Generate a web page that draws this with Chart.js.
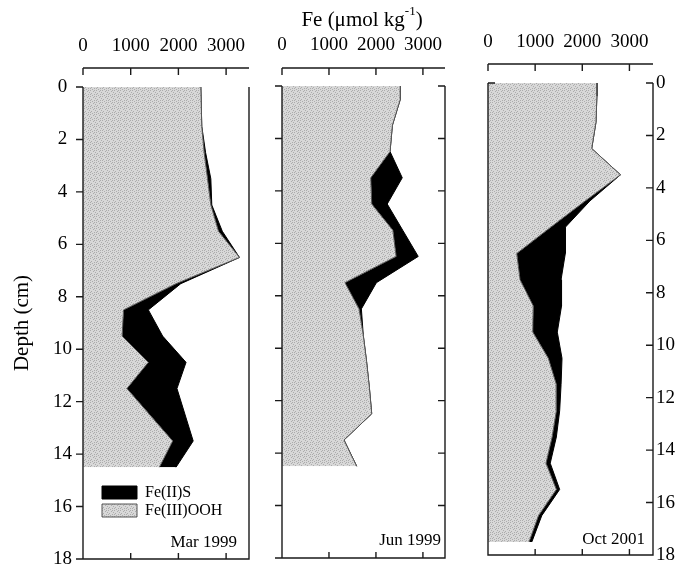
<!DOCTYPE html>
<html>
<head>
<meta charset="utf-8">
<script src="https://cdn.jsdelivr.net/npm/chart.js@4.4.1/dist/chart.umd.min.js"></script>
<style>
  body { margin: 0; background: #fff; }
  canvas { position: absolute; left: 0; top: 0; }
</style>
</head>
<body>
<canvas id="mar" width="684" height="565"></canvas>
<canvas id="jun" width="684" height="565"></canvas>
<canvas id="oct" width="684" height="565"></canvas>
<script>
// depth (cm) and Fe pools (umol/kg)
const depthMar = [0, 1.5, 2.5, 3.5, 4.5, 5.5, 6.5, 7.5, 8.5, 9.5, 10.5, 11.5, 13.5, 14.5];
const oohMar   = [2470, 2490, 2540, 2610, 2680, 2840, 3280, 1950, 850, 820, 1370, 920, 1880, 1600];
const fesMar   = [0, 0, 30, 70, 20, 80, 0, 100, 520, 850, 790, 1050, 430, 350];

const depthJun = [0, 0.5, 1.5, 2.5, 3.5, 4.5, 5.5, 6.5, 7.5, 8.5, 9.5, 10.5, 11.5, 12.5, 13.5, 14.5];
const oohJun   = [2520, 2520, 2350, 2300, 1890, 1910, 2360, 2430, 1340, 1640, 1730, 1800, 1860, 1910, 1320, 1590];
const fesJun   = [0, 0, 0, 0, 670, 330, 210, 470, 670, 50, 0, 0, 0, 0, 0, 0];

const depthOct = [0, 0.5, 1.5, 2.5, 3.5, 4.5, 5.5, 6.5, 7.5, 8.5, 9.5, 10.5, 11.5, 12.5, 13.5, 14.5, 15.5, 16.5, 17.5];
const oohOct   = [2310, 2310, 2290, 2200, 2810, 2060, 1330, 610, 680, 960, 950, 1280, 1450, 1450, 1360, 1230, 1450, 1070, 870];
const fesOct   = [0, 0, 0, 0, 0, 100, 310, 1030, 870, 600, 520, 290, 100, 70, 90, 90, 70, 70, 60];

const feTicks = [0, 1000, 2000, 3000];
const depthTicks = [0, 2, 4, 6, 8, 10, 12, 14, 16, 18];

Chart.defaults.font.family = '"Liberation Serif", "Times New Roman", serif';
Chart.defaults.color = '#000';

// stippled grey like the printed figure
const stipple = (() => {
  const c = document.createElement('canvas');
  c.width = c.height = 6;
  const g = c.getContext('2d');
  g.fillStyle = '#d8d8d8';
  g.fillRect(0, 0, 6, 6);
  g.fillStyle = '#acacac';
  [[0,0],[3,1],[1,3],[4,4],[2,5],[5,2],[0,4],[4,0]].forEach(([i, j]) => g.fillRect(i, j, 1, 1));
  return g.createPattern(c, 'repeat');
})();

const frame = {
  id: 'frame',
  afterLayout(chart, args, o) {
    if (o.legendAt && chart.legend) {
      Object.assign(chart.legend, { left: o.legendAt[0], top: o.legendAt[1], right: chart.chartArea.right, bottom: chart.chartArea.bottom });
    }
  },
  afterDatasetsDraw(chart, args, o) {
    const { ctx, chartArea: a, scales: { x, y } } = chart;
    const top = y.getPixelForValue(0), bot = y.getPixelForValue(18);
    const x0 = x.getPixelForValue(0), x1 = a.right;
    const ay = top - o.gap;
    ctx.save();
    ctx.strokeStyle = '#1a1a1a';
    ctx.lineWidth = 1.4;
    ctx.beginPath();
    ctx.moveTo(x0, ay); ctx.lineTo(x1, ay);
    feTicks.forEach(v => {
      const px = x.getPixelForValue(v);
      ctx.moveTo(px, ay); ctx.lineTo(px, ay + 7);
      if (v > 0) { ctx.moveTo(px, bot); ctx.lineTo(px, bot - 6); }
    });
    ctx.moveTo(x0, top); ctx.lineTo(x0, bot); ctx.lineTo(x1, bot); ctx.lineTo(x1, top);
    depthTicks.forEach(d => {
      const py = y.getPixelForValue(d);
      if (o.left) { ctx.moveTo(x0, py); ctx.lineTo(x0 + o.left, py); }
      if (o.right) { ctx.moveTo(x1, py); ctx.lineTo(x1 + o.right, py); }
    });
    if (o.cap) { ctx.moveTo(x0, top); ctx.lineTo(x0 + o.cap, top); }
    ctx.stroke();

    ctx.fillStyle = '#000';
    ctx.textBaseline = 'middle';
    ctx.textAlign = 'right';
    ctx.font = '17px "Liberation Serif"';
    ctx.fillText(o.date, o.dateAt[0], o.dateAt[1]);

    if (o.title) {
      const big = '21px "Liberation Serif"', small = '13px "Liberation Serif"';
      const a1 = 'Fe (\u03bcmol kg', a2 = '-1', a3 = ')';
      ctx.font = big;
      const w1 = ctx.measureText(a1).width, w3 = ctx.measureText(a3).width;
      ctx.font = small;
      const w2 = ctx.measureText(a2).width;
      let tx = o.title[0] - (w1 + w2 + w3) / 2;
      const ty = o.title[1];
      ctx.textAlign = 'left';
      ctx.font = big; ctx.fillText(a1, tx, ty); tx += w1;
      ctx.font = small; ctx.fillText(a2, tx, ty - 8); tx += w2;
      ctx.font = big; ctx.fillText(a3, tx, ty);
    }
    ctx.restore();
  }
};

function panel(id, p) {
  return new Chart(document.getElementById(id), {
    type: 'line',
    data: {
      datasets: [
        {
          label: 'Fe(III)OOH',
          data: p.depth.map((d, i) => ({ x: p.ooh[i], y: d })),
          backgroundColor: stipple,
          borderColor: '#555',
          borderWidth: 1,
          fill: 'origin',
          pointRadius: 0
        },
        {
          label: 'Fe(II)S',
          data: p.depth.map((d, i) => ({ x: p.fes[i], y: d })),
          backgroundColor: '#000',
          borderColor: '#000',
          borderWidth: 1,
          fill: '-1',
          pointRadius: 0
        }
      ]
    },
    options: {
      indexAxis: 'y',
      responsive: false,
      animation: false,
      layout: { padding: p.pad },
      plugins: {
        tooltip: { enabled: false },
        legend: p.legend ? {
          position: 'chartArea',
          align: 'start',
          reverse: true,
          labels: { boxWidth: 35, boxHeight: 13, padding: 2, font: { size: 16 }, color: '#000' }
        } : { display: false },
        frame: p.frame
      },
      scales: {
        x: {
          type: 'linear',
          position: 'top',
          stacked: true,
          min: 0,
          max: p.xmax,
          grid: { display: false, drawTicks: false },
          border: { display: false },
          afterBuildTicks: s => { s.ticks = feTicks.map(v => ({ value: v })); },
          ticks: { padding: 30, font: { size: 19 }, callback: v => String(v) },
          afterFit: s => { s.height = p.top; s.paddingLeft = 0; s.paddingRight = 0; }
        },
        y: {
          type: 'linear',
          reverse: true,
          min: 0,
          max: 18,
          position: p.yPos,
          display: p.yShow,
          grid: { display: false, drawTicks: false },
          border: { display: false },
          afterBuildTicks: s => { s.ticks = depthTicks.map(v => ({ value: v })); },
          ticks: { padding: p.yPad, crossAlign: p.yAlign, font: { size: 19 } },
          title: p.yTitle ? { display: true, text: 'Depth (cm)', font: { size: 21 }, padding: { top: 10, bottom: 0 } } : { display: false },
          afterFit: s => { s.width = p.yWidth; s.paddingTop = 0; s.paddingBottom = 0; }
        }
      }
    },
    plugins: [frame]
  });
}

panel('mar', {
  depth: depthMar, ooh: oohMar, fes: fesMar,
  xmax: 3480, top: 87, pad: { left: 0, right: 435, top: 0, bottom: 6 },
  yPos: 'left', yShow: true, yPad: 11, yAlign: 'center', yWidth: 83, yTitle: true,
  legend: true,
  frame: { gap: 19, left: -7, date: 'Mar 1999', dateAt: [237, 543], legendAt: [100, 482.5] }
});

panel('jun', {
  depth: depthJun, ooh: oohJun, fes: fesJun,
  xmax: 3470, top: 86, pad: { left: 282, right: 239, top: 0, bottom: 7 },
  yPos: 'left', yShow: false, yPad: 0, yAlign: 'near', yWidth: 0, yTitle: false,
  legend: false,
  frame: { gap: 18, left: -7, right: -7, date: 'Jun 1999', dateAt: [441, 541], title: [362, 20] }
});

panel('oct', {
  depth: depthOct, ooh: oohOct, fes: fesOct,
  xmax: 3500, top: 83, pad: { left: 488, right: 0, top: 0, bottom: 10 },
  yPos: 'right', yShow: true, yPad: 3, yAlign: 'near', yWidth: 31, yTitle: false,
  legend: false,
  frame: { gap: 19, right: -7, cap: 7, date: 'Oct 2001', dateAt: [645, 540] }
});
</script>
</body>
</html>
